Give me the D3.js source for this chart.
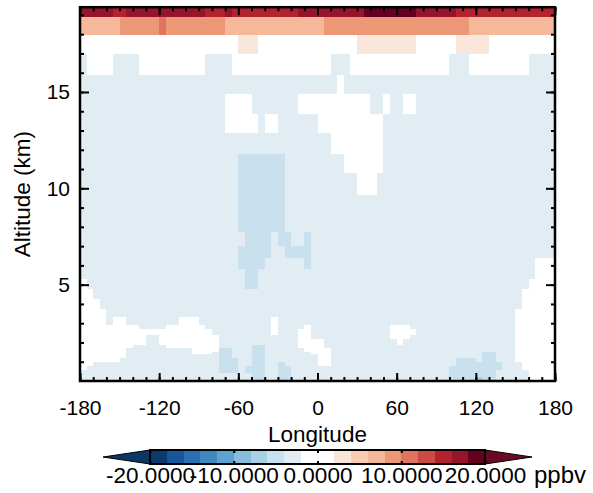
<!DOCTYPE html>
<html><head><meta charset="utf-8">
<script src="https://cdn.jsdelivr.net/npm/d3@7"></script>
<style>
body{margin:0;background:#fff}
text{font-family:"Liberation Sans",Arial,Helvetica,sans-serif;fill:#000}
</style>
</head><body>
<svg id="chart" width="593" height="493"></svg>
<script>
// ---------------- DATA ----------------
// longitude grid: 5-degree cells from -180 to 180
const lonCellStart = d3.range(-180, 180, 5);
// altitude cell edges (km), top to bottom
const altitudeEdges = [19.9, 18.9, 17.95, 16.95, 15.9, 14.9, 13.85, 12.85, 11.8, 10.8,
  9.65, 8.7, 7.75, 7.0, 6.4, 5.8, 5.3, 4.8, 4.25, 3.75, 3.3, 2.9, 2.7, 2.4, 2.2,
  1.87, 1.71, 1.52, 1.38, 1.19, 0.99, 0.78, 0.57, 0.39, 0.21, 0];
// code letter -> ppbv value
const codeValues = {'.':0, 'a':-3, 'b':-5, 'c':-7, 'p':3, 'N':7, 'O':9, 'P':11, 'S':15, 'T':17, 'U':19};
// run-length encoded rows (code + count), top row first, 72 cells each
const rowRuns = [
  "T5 S2 T12 S3 T1 S10 T10 U8 T6 S15",
  "N6 O6 P1 O9 N15 O22 N13",
  ".24 p3 .15 p9 .6 p5 .10",
  "a1 .4 a4 .10 a4 .15 a3 .15 a3 .9 a4",
  "a39 .1 a32",
  "a22 .4 a7 .11 a2 .1 a2 .2 a21",
  "a22 .5 a1 .2 a6 .10 a26",
  "a38 .8 a26",
  "a24 b7 a9 .6 a26",
  "a24 b7 a11 .3 a27",
  "a24 b7 a41",
  "a24 b7 a41",
  "a25 b4 a1 b2 a2 b1 a37",
  "a24 b5 a2 b4 a37",
  "a24 b4 a6 b1 a34 .3",
  "a25 b2 a42 .3",
  ".1 a24 b2 a41 .4",
  ".2 a65 .5",
  ".3 a64 .5",
  ".4 a62 .6",
  ".4 a1 .2 a8 .3 a11 .1 a36 .6",
  ".9 a4 .6 a10 .1 a4 .1 a12 .3 a16 .6",
  ".20 a9 .1 a3 .2 a12 .4 a15 .6",
  ".10 a2 .9 a12 .2 a12 .3 a16 .6",
  ".10 a2 .9 a12 .4 a11 .1 a17 .6",
  ".8 a5 .8 a5 b2 a5 .4 a29 .6",
  ".7 a10 .4 b2 a3 b2 a6 .4 a28 .6",
  ".7 a10 .3 a1 b2 a3 b2 a7 .3 a23 b2 a3 .6",
  ".7 a14 b2 a3 b2 a8 .2 a23 b2 a3 .6",
  ".6 a15 b3 a2 b2 a8 .2 a19 b3 a1 b2 a3 .6",
  ".2 a19 b3 a2 b2 a2 b1 a5 .2 a19 b7 a3 .5",
  ".1 a20 b3 a1 b3 a2 b2 a24 b8 a3 .5",
  "a21 b3 a1 b3 a2 b2 a24 b7 a5 .4",
  "a26 b2 a2 b2 a24 b7 a5 .4",
  "a26 b2 a2 b2 a24 b4 c1 b2 a5 .4"
];
// colour levels (ppbv) and palette
const colorLevels = d3.range(-20, 21, 2);
const palette = ["#0d3a6e","#18569a","#2a70b3","#3d88c1","#5ea3cf","#86bddb","#a9d0e5","#c9e1ee","#e1ecf3","#ffffff",
                 "#ffffff","#f9e6db","#f9cdb5","#f6b89b","#ec9876","#df7560","#cd4b47","#b5212f","#96152a","#67001f"];
const underColor = "#0b3767", overColor = "#6a0a24";
const lonTicks = d3.range(-180, 181, 60);
const lonMinorTicks = d3.range(-180, 181, 10);
const altTicks = [5, 10, 15];
const altMinorTicks = d3.range(1, 20, 1);
const cbarTicks = [-20, -10, 0, 10, 20];
const units = "ppbv";

// ---------------- DRAW ----------------
const svg = d3.select("#chart");
const x = d3.scaleLinear().domain([-180, 180]).range([80, 555]);
const y = d3.scaleLinear().domain([0, 19.4]).range([381, 7.2]);
const color = d3.scaleThreshold().domain(colorLevels.slice(1, -1)).range(palette);

function decode(s) {
  const out = [];
  s.trim().split(/\s+/).forEach(t => { const v = codeValues[t[0]]; const n = +t.slice(1); for (let i = 0; i < n; i++) out.push(v); });
  return out;
}
const cells = [];
rowRuns.forEach((s, r) => {
  decode(s).forEach((v, c) => cells.push({lon: lonCellStart[c], top: altitudeEdges[r], bot: altitudeEdges[r + 1], v}));
});

svg.append("clipPath").attr("id", "clip").append("rect")
  .attr("x", x(-180)).attr("y", y(19.4)).attr("width", x(180) - x(-180)).attr("height", y(0) - y(19.4));

svg.append("g").attr("clip-path", "url(#clip)").attr("shape-rendering", "crispEdges")
  .selectAll("rect").data(cells).join("rect")
  .attr("x", d => x(d.lon)).attr("width", d => x(d.lon + 5) - x(d.lon) + 0.4)
  .attr("y", d => y(d.top)).attr("height", d => y(d.bot) - y(d.top) + 0.4)
  .attr("fill", d => color(d.v));

function styleAxis(g, labels, size) {
  g.select(".domain").remove();
  g.selectAll(".tick line").attr("stroke", "#000").attr("stroke-width", 2);
  if (!labels) g.selectAll(".tick text").remove();
  else g.selectAll(".tick text").attr("font-size", size).attr("fill", "#000");
}
const fmtInt = d => String(d);
// bottom
svg.append("g").attr("transform", `translate(0,${y(0)})`)
  .call(d3.axisBottom(x).tickValues(lonMinorTicks).tickSize(-4)).call(g => styleAxis(g, false));
svg.append("g").attr("transform", `translate(0,${y(0)})`)
  .call(d3.axisBottom(x).tickValues(lonTicks).tickSize(-8).tickPadding(19).tickFormat(fmtInt)).call(g => styleAxis(g, true, 21));
// top
svg.append("g").attr("transform", `translate(0,${y(19.4)})`)
  .call(d3.axisTop(x).tickValues(lonMinorTicks).tickSize(-4)).call(g => styleAxis(g, false));
svg.append("g").attr("transform", `translate(0,${y(19.4)})`)
  .call(d3.axisTop(x).tickValues(lonTicks).tickSize(-8)).call(g => styleAxis(g, false));
// left
svg.append("g").attr("transform", `translate(${x(-180)},0)`)
  .call(d3.axisLeft(y).tickValues(altMinorTicks).tickSize(-4)).call(g => styleAxis(g, false));
svg.append("g").attr("transform", `translate(${x(-180)},0)`)
  .call(d3.axisLeft(y).tickValues(altTicks).tickSize(-9).tickPadding(10).tickFormat(fmtInt)).call(g => styleAxis(g, true, 21));
// right
svg.append("g").attr("transform", `translate(${x(180)},0)`)
  .call(d3.axisRight(y).tickValues(altMinorTicks).tickSize(-4)).call(g => styleAxis(g, false));
svg.append("g").attr("transform", `translate(${x(180)},0)`)
  .call(d3.axisRight(y).tickValues(altTicks).tickSize(-9)).call(g => styleAxis(g, false));

// frame
svg.append("rect").attr("x", x(-180)).attr("y", y(19.4)).attr("width", x(180) - x(-180)).attr("height", y(0) - y(19.4))
  .attr("fill", "none").attr("stroke", "#000").attr("stroke-width", 2.5);

// axis titles
svg.append("text").attr("x", (x(-180) + x(180)) / 2).attr("y", 442).attr("text-anchor", "middle")
  .attr("font-size", 22.5).text("Longitude");
svg.append("text").attr("transform", `translate(30,${(y(0) + y(19.4)) / 2}) rotate(-90)`).attr("text-anchor", "middle")
  .attr("font-size", 22.5).text("Altitude (km)");

// ---------------- COLORBAR ----------------
const cx = d3.scaleLinear().domain([-20, 20]).range([150, 485]);
const cbTop = 450, cbBot = 464, cbMid = (cbTop + cbBot) / 2, triLen = 47;
const cb = svg.append("g");
cb.append("path").attr("d", `M${cx(-20)},${cbTop} L${cx(-20) - triLen},${cbMid} L${cx(-20)},${cbBot} Z`)
  .attr("fill", underColor).attr("stroke", "#000").attr("stroke-width", 1);
cb.append("path").attr("d", `M${cx(20)},${cbTop} L${cx(20) + triLen},${cbMid} L${cx(20)},${cbBot} Z`)
  .attr("fill", overColor).attr("stroke", "#000").attr("stroke-width", 1);
cb.selectAll("rect.lv").data(d3.pairs(colorLevels)).join("rect").attr("class", "lv")
  .attr("shape-rendering", "crispEdges")
  .attr("x", d => cx(d[0])).attr("width", d => cx(d[1]) - cx(d[0]) + 0.3)
  .attr("y", cbTop).attr("height", cbBot - cbTop)
  .attr("fill", d => color((d[0] + d[1]) / 2));
cb.append("rect").attr("x", cx(-20)).attr("y", cbTop).attr("width", cx(20) - cx(-20)).attr("height", cbBot - cbTop)
  .attr("fill", "none").attr("stroke", "#000").attr("stroke-width", 2);
cb.append("g").attr("transform", `translate(0,${cbBot})`)
  .call(d3.axisBottom(cx).tickValues(cbarTicks).tickSize(-3).tickPadding(3).tickFormat(d => d.toFixed(4)))
  .call(g => styleAxis(g, true, 22.5));
cb.append("g").attr("transform", `translate(0,${cbTop})`)
  .call(d3.axisTop(cx).tickValues(cbarTicks).tickSize(-3)).call(g => styleAxis(g, false));
cb.append("text").attr("x", 534).attr("y", 483).attr("font-size", 24).text(units);
</script>
</body></html>
